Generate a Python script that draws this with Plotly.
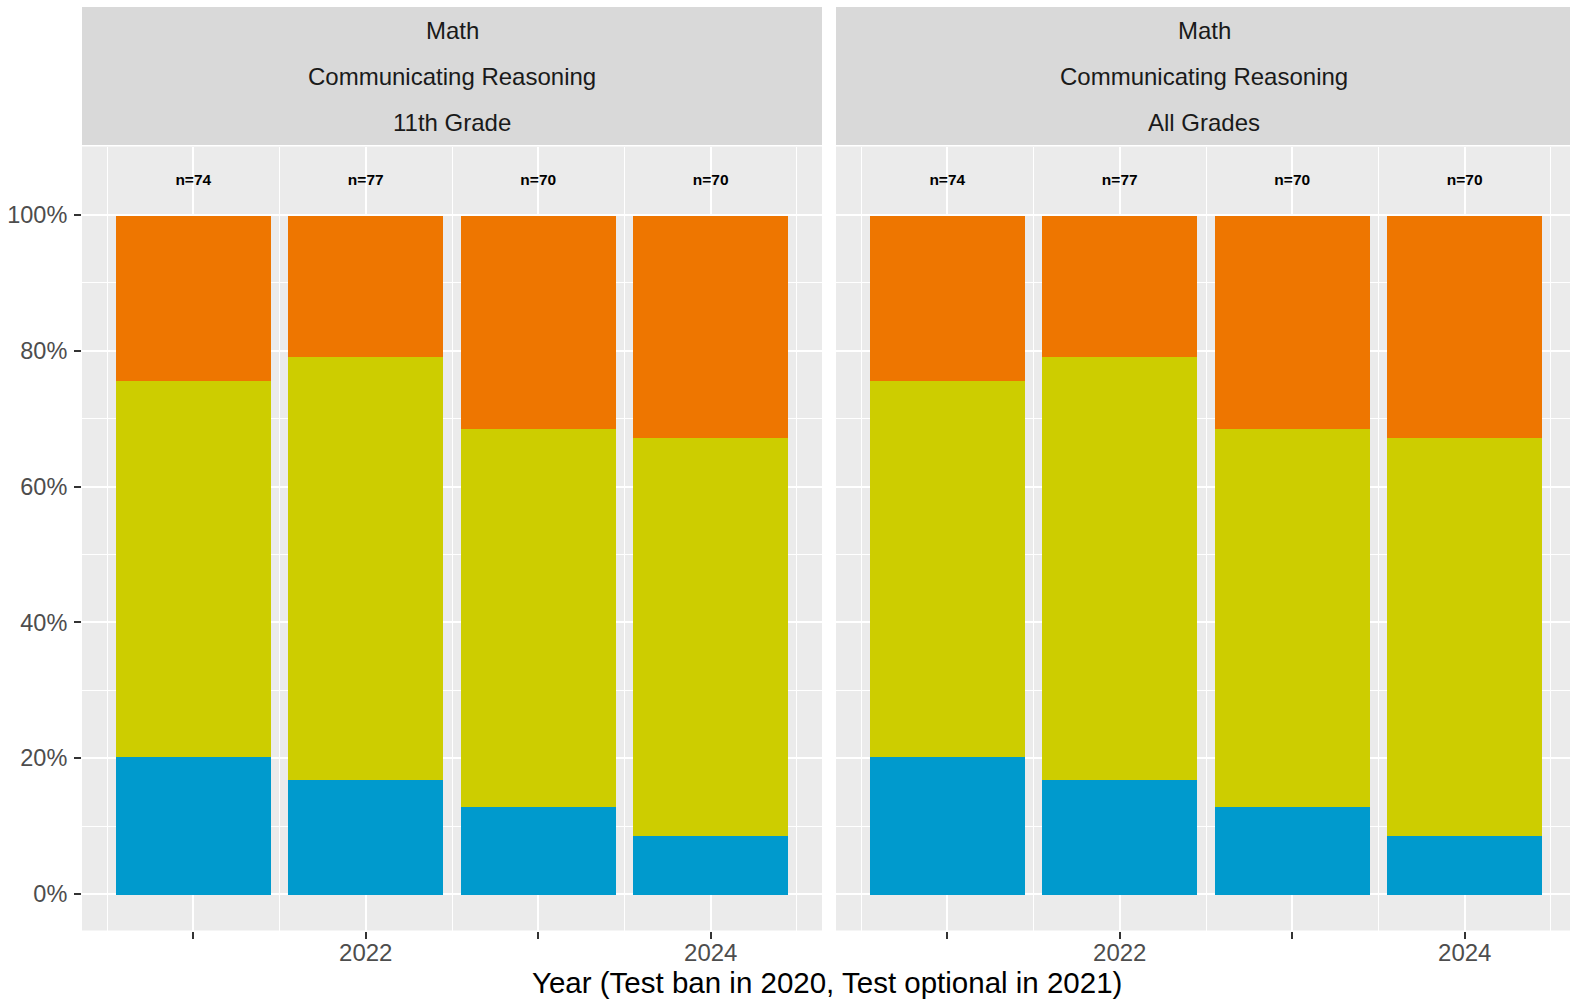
import plotly.graph_objects as go

# ---- data ----
years = [2021, 2022, 2023, 2024]
tick_labels = ["", "2022", "", "2024"]
n_counts = [74, 77, 70, 70]

# shares (fraction of students), bottom -> top
grade11_level1 = [0.203, 0.169, 0.129, 0.086]
grade11_level2 = [0.554, 0.623, 0.557, 0.586]
grade11_level3 = [0.243, 0.208, 0.314, 0.328]

all_level1 = [0.203, 0.169, 0.129, 0.086]
all_level2 = [0.554, 0.623, 0.557, 0.586]
all_level3 = [0.243, 0.208, 0.314, 0.328]

series_names = ["Below Standard", "At/Near Standard", "Above Standard"]
series_colors = ["#009ACD", "#CDCD00", "#EE7600"]

strip_lines = [
    ["Math", "Communicating Reasoning", "11th Grade"],
    ["Math", "Communicating Reasoning", "All Grades"],
]
x_title = "Year (Test ban in 2020, Test optional in 2021)"

# ---- layout geometry (pixels) ----
W, H = 1570, 1004
FONT = "Liberation Sans, Arial, sans-serif"
panel_top, panel_bottom = 146.5, 930.5
panels_px = [(82, 822), (836, 1570)]
px_per_year = 740 / 4.29
x_lo = 2020.355

def px2x(p):
    return p / W

def py2y(p):
    return (H - p) / H

fig = go.Figure()

panel_data = [
    [grade11_level1, grade11_level2, grade11_level3],
    [all_level1, all_level2, all_level3],
]

for i, data in enumerate(panel_data):
    xa = "x" if i == 0 else "x2"
    ya = "y" if i == 0 else "y2"
    for vals, name, col in zip(data, series_names, series_colors):
        fig.add_trace(go.Bar(
            x=years, y=vals, name=name, width=0.9,
            marker=dict(color=col, line=dict(width=0)),
            xaxis=xa, yaxis=ya, showlegend=False,
        ))
    fig.add_trace(go.Scatter(
        x=years, y=[1.05] * len(years), mode="text",
        text=[f"<b>n={n}</b>" for n in n_counts],
        textposition="middle center",
        textfont=dict(family=FONT, size=15.5, color="black"),
        xaxis=xa, yaxis=ya, showlegend=False, hoverinfo="skip",
    ))

ydom = [py2y(panel_bottom), py2y(panel_top)]
yrange = [-0.0537, 1.1009]

def xaxis_cfg(i):
    l, r = panels_px[i]
    x_hi = x_lo + (r - l) / px_per_year
    return dict(
        domain=[px2x(l), px2x(r)], range=[x_lo, x_hi],
        tickmode="array", tickvals=years, ticktext=tick_labels,
        ticks="outside", ticklen=7, tickwidth=2.2, tickcolor="#333333",
        tickfont=dict(family=FONT, size=24, color="#4D4D4D"),
        ticklabelstandoff=-6,
        showgrid=True, gridcolor="white", gridwidth=2.4,
        minor=dict(tickvals=[y - 0.5 for y in years] + [years[-1] + 0.5],
                   showgrid=True, gridcolor="white", gridwidth=1.2, ticks=""),
        zeroline=False, showline=False, fixedrange=True,
        anchor="y" if i == 0 else "y2",
    )

def yaxis_cfg(i):
    d = dict(
        domain=ydom, range=yrange,
        tickmode="array", tickvals=[0, 0.2, 0.4, 0.6, 0.8, 1.0],
        showgrid=True, gridcolor="white", gridwidth=2.4,
        minor=dict(tickvals=[0.1, 0.3, 0.5, 0.7, 0.9],
                   showgrid=True, gridcolor="white", gridwidth=1.2, ticks=""),
        zeroline=False, showline=False, fixedrange=True,
        anchor="x" if i == 0 else "x2",
    )
    if i == 0:
        d.update(tickformat=".0%", ticks="outside", ticklen=7, tickwidth=2.2,
                 tickcolor="#333333",
                 tickfont=dict(family=FONT, size=23.5, color="#4D4D4D"),
                 ticklabelstandoff=2)
    else:
        d.update(showticklabels=False, ticks="", matches="y")
    return d

shapes = []
annotations = []
strip_top, strip_bottom = 7, 145
line_centers = [31, 76.5, 122.5]
for i, (l, r) in enumerate(panels_px):
    shapes.append(dict(
        type="rect", xref="paper", yref="paper",
        x0=px2x(l), x1=px2x(r), y0=py2y(strip_bottom), y1=py2y(strip_top),
        fillcolor="#D9D9D9", line=dict(width=0), layer="below",
    ))
    cx = (l + (r if i == 0 else 1572)) / 2
    for txt, cy in zip(strip_lines[i], line_centers):
        annotations.append(dict(
            text=txt, xref="paper", yref="paper",
            x=px2x(cx), y=py2y(cy), xanchor="center", yanchor="middle",
            showarrow=False, font=dict(family=FONT, size=24, color="#1A1A1A"),
        ))

annotations.append(dict(
    text=x_title, xref="paper", yref="paper",
    x=px2x(827), y=py2y(982), xanchor="center", yanchor="middle",
    showarrow=False, font=dict(family=FONT, size=29.5, color="black"),
))

fig.update_layout(
    width=W, height=H,
    margin=dict(l=0, r=0, t=0, b=0),
    paper_bgcolor="white", plot_bgcolor="#EBEBEB",
    barmode="stack", bargap=0,
    showlegend=False,
    xaxis=xaxis_cfg(0), xaxis2=xaxis_cfg(1),
    yaxis=yaxis_cfg(0), yaxis2=yaxis_cfg(1),
    shapes=shapes, annotations=annotations,
    font=dict(family=FONT),
)

fig.write_html(
    "out.html",
    config={"displayModeBar": False},
    post_script="document.body.style.margin='0px';document.body.style.padding='0px';",
)
